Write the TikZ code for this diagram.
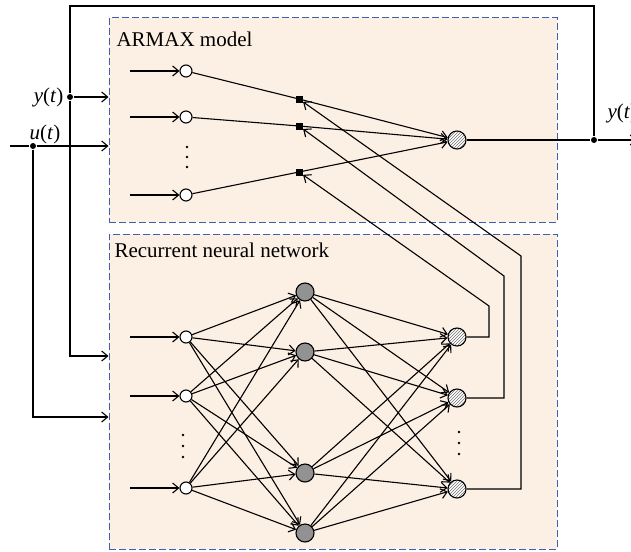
\documentclass[tikz,border=0pt]{standalone}
\usepackage{fontspec}
\setmainfont{Liberation Serif}
\usetikzlibrary{patterns,arrows.meta}
\definecolor{peach}{HTML}{FCEFE4}
\definecolor{boxblue}{HTML}{3F5FB0}
\definecolor{hidgray}{HTML}{929292}
\begin{document}
\begin{tikzpicture}[x=1pt,y=-1pt,
  line width=1.1pt,
  box/.style={draw=boxblue, dash pattern=on 7pt off 3pt, fill=peach, line width=1pt, rectangle, inner sep=0pt},
  inn/.style={circle, draw, fill=white, minimum size=12pt, inner sep=0pt},
  hid/.style={circle, draw, fill=hidgray, minimum size=18pt, inner sep=0pt},
  outn/.style={circle, draw, preaction={fill=white}, pattern=north east lines, pattern color=black!55, minimum size=18pt, inner sep=0pt},
  sq/.style={rectangle, fill=black, minimum size=7pt, inner sep=0pt},
  arr/.style={-{Straight Barb[length=6pt,width=10pt]}},
  jdot/.style={circle, fill=black, minimum size=6pt, inner sep=0pt},
  vdot/.style={circle, fill=black, minimum size=2.8pt, inner sep=0pt},
  lbl/.style={font=\fontsize{21}{24}\selectfont, inner sep=0pt},
]
\useasboundingbox (0,0) rectangle (631,551);

% boxes
\node[box, minimum width=448pt, minimum height=204pt] (armax) at (333,120) {};
\node[box, minimum width=448pt, minimum height=315pt] (rnn) at (333,391.5) {};
\node[lbl, anchor=base west] (armaxlbl) at (116,47) {ARMAX model};
\node[lbl, anchor=base west] (rnnlbl) at (114,257) {Recurrent neural network};

% ARMAX nodes
\node[inn] (a1) at (186,71) {};
\node[inn] (a2) at (186,117) {};
\node[inn] (a3) at (186,195) {};
\node[sq] (s1) at (299,99) {};
\node[sq] (s2) at (299,126) {};
\node[sq] (s3) at (299,172) {};
\node[outn] (ao) at (457,140) {};
\node[vdot] (ad1) at (187,147) {};
\node[vdot] (ad2) at (187,157) {};
\node[vdot] (ad3) at (187,167) {};

\foreach \i in {1,2,3} {
  \draw[arr] ([xshift=-56pt]a\i.center) -- (a\i);
  \draw (a\i) -- (s\i.center);
  \draw[arr] (s\i.center) -- (ao);
}

% RNN nodes
\node[inn] (r1) at (186,337) {};
\node[inn] (r2) at (186,396) {};
\node[inn] (r3) at (186,488) {};
\node[hid] (h1) at (305,292) {};
\node[hid] (h2) at (305,352) {};
\node[hid] (h3) at (305,473) {};
\node[hid] (h4) at (305,533) {};
\node[outn] (o1) at (457,337) {};
\node[outn] (o2) at (457,398) {};
\node[outn] (o3) at (457,489) {};
\node[vdot] (rd1) at (183,435) {};
\node[vdot] (rd2) at (183,446) {};
\node[vdot] (rd3) at (183,457) {};
\node[vdot] (od1) at (459,432) {};
\node[vdot] (od2) at (459,443) {};
\node[vdot] (od3) at (459,454) {};

\foreach \i in {1,2,3} {
  \draw[arr] ([xshift=-56pt]r\i.center) -- (r\i);
  \foreach \j in {1,2,3,4} {
    \draw[arr] (r\i) -- (h\j);
    \draw[arr] (h\j) -- (o\i);
  }
}

% feedback from RNN outputs to ARMAX weights
\coordinate (f1a) at (489,337);
\coordinate (f1b) at (489,306);
\coordinate (f2a) at (504,398);
\coordinate (f2b) at (504,276);
\coordinate (f3a) at (521,489);
\coordinate (f3b) at (521,256);
\draw[arr] (o1) -- (f1a) -- (f1b) -- (s3);
\draw[arr] (o2) -- (f2a) -- (f2b) -- (s2);
\draw[arr] (o3) -- (f3a) -- (f3b) -- (s1);

% outer signals
\node[jdot] (jo) at (594,140) {};
\coordinate (oend) at (637,140);
\coordinate (tr) at (594,6);
\coordinate (tl) at (70,6);
\node[jdot] (jy) at (70,97) {};
\coordinate (yb) at (70,356);
\coordinate (uin) at (10,146);
\node[jdot] (ju) at (33,146) {};
\coordinate (ub) at (33,417);

\draw[arr] (ao) -- (jo) -- (oend);
\draw (jo) -- (tr) -- (tl) -- (jy);
\draw[arr] (jy) -- (yb) -- (rnn.west |- yb);
\draw[arr] (jy) -- (armax.west |- jy);
\draw[arr] (uin) -- (ju) -- (armax.west |- ju);
\draw[arr] (ju) -- (ub) -- (rnn.west |- ub);

\node[lbl, anchor=east] (ylbl) at (64,97) {\textit{y}(\textit{t})};
\node[lbl] (ulbl) at (45,134) {\textit{u}(\textit{t})};
\node[lbl, anchor=west] (yout) at (607,113) {\textit{y}(\textit{t})};
\end{tikzpicture}
\end{document}
